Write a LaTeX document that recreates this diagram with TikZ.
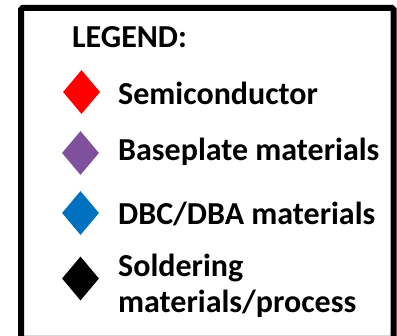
\documentclass[tikz,border=0pt]{standalone}
\usepackage{fontspec}
\setmainfont{Carlito}
\usetikzlibrary{shapes.geometric}
\definecolor{semired}{HTML}{FF0000}
\definecolor{basepurple}{HTML}{7F519D}
\definecolor{dbcblue}{HTML}{0070C0}
\definecolor{framegray}{HTML}{D9D9D9}
\tikzset{
  legendtext/.style={anchor=base west, inner sep=0pt, font=\fontsize{32}{38}\selectfont\bfseries},
  marker/.style={diamond, draw=none, inner sep=0pt, minimum width=37pt, minimum height=44pt},
  frame/.style={draw=black, line width=6pt, rounded corners=1.5pt}
}
\begin{document}
\begin{tikzpicture}[x=1pt,y=-1pt]
\useasboundingbox (0,0) rectangle (397,336);
\fill[white] (0,0) rectangle (397,336);
\draw[framegray, line width=0.8pt] (24,335) -- (391,335);
\draw[frame] (21,8) rectangle (393.5,360);
\node[legendtext] (title) at (72,48) {LEGEND:};
\node[marker, fill=semired] (d1) at (81.5,92) {};
\node[legendtext] (t1) at (118,105) {Semiconductor};
\node[marker, fill=basepurple] (d2) at (80.5,153) {};
\node[legendtext] (t2) at (118,161) {Baseplate materials};
\node[marker, fill=dbcblue] (d3) at (80.5,213) {};
\node[legendtext] (t3) at (118,225) {DBC/DBA materials};
\node[marker, fill=black] (d4) at (80.5,278.5) {};
\node[legendtext] (t4) at (118,277) {Soldering};
\node[legendtext] (t5) at (118,313) {materials/process};
\end{tikzpicture}
\end{document}
